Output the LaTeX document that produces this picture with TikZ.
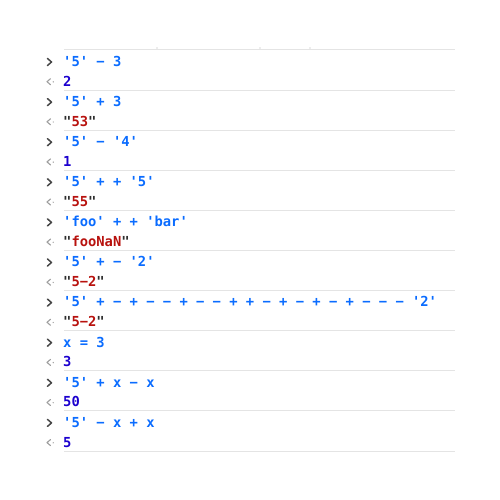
\documentclass[tikz,border=0pt]{standalone}
\usepackage{fontspec}
\usepackage{xcolor}
\newfontfamily\consoleFont{DejaVu Sans Mono}
\definecolor{inBlue}{HTML}{0A6CFF}
\definecolor{numBlue}{HTML}{1C00CF}
\definecolor{strRed}{HTML}{B8120E}
\definecolor{quoteGray}{HTML}{2E2E2E}
\definecolor{ruleGray}{HTML}{E4E4E4}
\newcommand{\jsStr}[1]{\textcolor{quoteGray}{"}\textcolor{strRed}{#1}\textcolor{quoteGray}{"}}
\tikzset{
  inText/.style={anchor=base west, inner sep=0pt, text=inBlue,
    font=\consoleFont\bfseries\fontsize{13.8}{16}\selectfont},
  outText/.style={inText, text=numBlue},
  sepLine/.style={ruleGray, line width=1pt},
  inArrow/.style={draw=black!72, line width=1.5pt, line cap=round, line join=round},
  outArrow/.style={draw=black!38, line width=1.1pt, line cap=round, line join=round}
}

\begin{document}
\begin{tikzpicture}[x=1pt, y=-1pt]
  \fill[white] (0,0) rectangle (500,500);
  \useasboundingbox (0,0) rectangle (500,500);
  % separators and prompts
  \foreach \k in {0,...,9}{
    \pgfmathsetmacro{\s}{50+40.1*\k}
    \draw[sepLine] (64,\s) -- (455,\s);
    \draw[inArrow] (47.5,\s+8.5) -- (51.5,\s+12) -- (47.5,\s+15.5);
    \draw[outArrow] (50.5,\s+28.7) -- (47,\s+31.7) -- (50.5,\s+34.7);
    \fill[black!38] (53.2,\s+31.9) circle (0.7);
  }
  \draw[sepLine] (64,451) -- (455,451);
  \fill[black!30] (157,48) circle (0.6);
  \fill[black!30] (260,48) circle (0.6);
  \fill[black!30] (310,48) circle (0.6);
  % console lines
  \node[inText] (in1) at (63,66.3) {'5' − 3};
  \node[outText] (out1) at (63,86.1) {2};
  \node[inText] (in2) at (63,106.4) {'5' + 3};
  \node[outText] (out2) at (63,126.2) {\jsStr{53}};
  \node[inText] (in3) at (63,146.5) {'5' − '4'};
  \node[outText] (out3) at (63,166.3) {1};
  \node[inText] (in4) at (63,186.6) {'5' + + '5'};
  \node[outText] (out4) at (63,206.4) {\jsStr{55}};
  \node[inText] (in5) at (63,226.7) {'foo' + + 'bar'};
  \node[outText] (out5) at (63,246.5) {\jsStr{fooNaN}};
  \node[inText] (in6) at (63,266.8) {'5' + − '2'};
  \node[outText] (out6) at (63,286.6) {\jsStr{5−2}};
  \node[inText] (in7) at (63,306.9) {'5' + − + − − + − − + + − + − + − + − − − '2'};
  \node[outText] (out7) at (63,326.7) {\jsStr{5−2}};
  \node[inText] (in8) at (63,347.0) {x = 3};
  \node[outText] (out8) at (63,366.8) {3};
  \node[inText] (in9) at (63,387.1) {'5' + x − x};
  \node[outText] (out9) at (63,406.9) {50};
  \node[inText] (in10) at (63,427.2) {'5' − x + x};
  \node[outText] (out10) at (63,447.0) {5};
\end{tikzpicture}
\end{document}
